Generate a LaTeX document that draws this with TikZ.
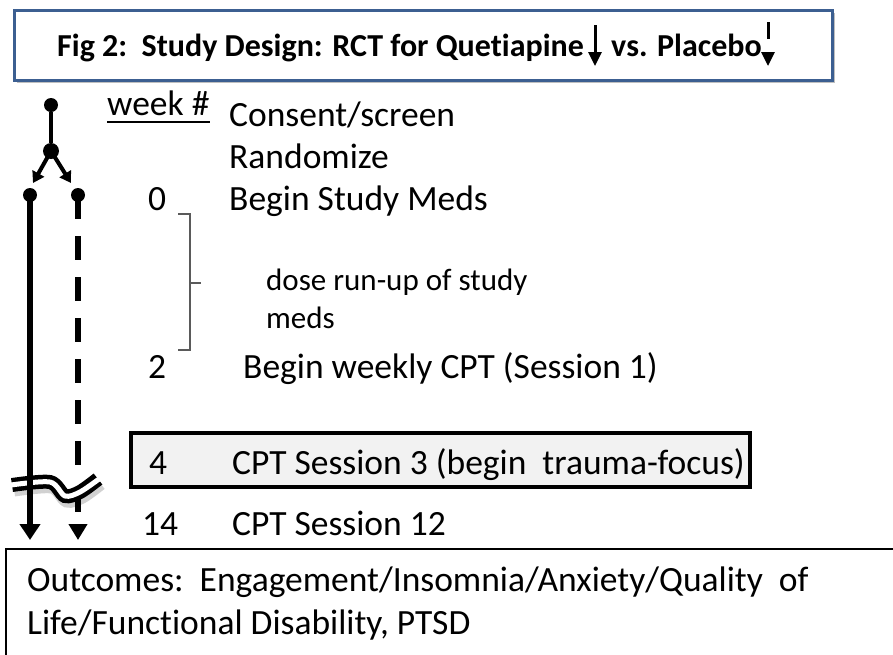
\documentclass[tikz,border=0pt]{standalone}
\usepackage{fontspec}
\setmainfont{Carlito}[Ligatures={NoCommon}]
\usetikzlibrary{arrows.meta,shadows}
\definecolor{titleblue}{RGB}{60,95,145}
\definecolor{bracketgray}{RGB}{90,90,90}
\definecolor{hlfill}{RGB}{242,242,242}
\begin{document}
\begin{tikzpicture}[x=1pt,y=-1pt,
  txt/.style={anchor=base west,inner sep=0pt,font=\fontsize{35.5}{43}\selectfont},
  smalltxt/.style={anchor=base west,inner sep=0pt,font=\fontsize{31}{38}\selectfont},
  num/.style={anchor=base,inner sep=0pt,font=\fontsize{35.5}{43}\selectfont},
  titletxt/.style={anchor=base west,inner sep=0pt,font=\bfseries\fontsize{32}{38}\selectfont},
  dot/.style={circle,fill=black,inner sep=0pt,minimum size=14pt},
  stem/.style={line width=4pt},
  split/.style={line width=4pt,-{Triangle[width=13pt,length=11pt]}},
  flow/.style={line width=5.5pt,-{Triangle[width=20pt,length=16pt]}},
  dashflow/.style={line width=5.5pt,dash pattern=on 24pt off 17pt},
  bracketline/.style={draw=bracketgray,line width=2pt},
]
\useasboundingbox (0,0) rectangle (893,654);

% title box
\node[draw=titleblue,line width=3pt,fill=white,minimum width=818pt,minimum height=70pt,
  drop shadow={shadow xshift=3pt,shadow yshift=-3pt,fill=black,opacity=0.25}] (titlebox) at (423,45) {};
\node[titletxt] (t1) at (57,56) {Fig 2:\ \ Study Design: RCT for Quetiapine};
\node[titletxt] (t2) at (611,56) {vs. Placebo};
\coordinate (qa1) at (595,25);
\coordinate (qa2) at (595,66);
\draw[line width=3pt,-{Triangle[width=13pt,length=14pt]}] (qa1) -- (qa2);
\coordinate (pa1) at (768,22);
\coordinate (pa2) at (768,66);
\draw[line width=3pt,dash pattern=on 17pt off 30pt,-{Triangle[width=13pt,length=14pt]}] (pa1) -- (pa2);

% timeline dots and split
\node[dot] (a) at (51,105) {};
\node[dot,minimum size=16pt] (b) at (51,151) {};
\node[dot] (c) at (30,195) {};
\node[dot] (d) at (78,195) {};
\draw[stem] (a) -- (b);
\coordinate (bl) at (33,183);
\coordinate (br) at (71,183);
\draw[split] (b.center) -- (bl);
\draw[split] (b.center) -- (br);

% dashed (placebo) line
\coordinate (dbreak) at (78,472);
\draw[dashflow] (d.center) -- (dbreak);
\coordinate (d2) at (78,497);
\coordinate (dend) at (78,540);
\draw[line width=5.5pt,dash pattern=on 15pt off 40pt,-{Triangle[width=18pt,length=16pt]}] (d2) -- (dend);

% break symbol
\draw[line width=15pt,black,opacity=0.18] plot[smooth] coordinates {(14,489) (52,486) (67,500) (82,496) (100,483)};
\draw[line width=14pt,black] plot[smooth] coordinates {(12,485) (50,482) (65,496) (80,492) (98,479)};
\draw[line width=5pt,white] plot[smooth] coordinates {(11,485) (50,482) (65,496) (80,492) (99,479)};

% solid (quetiapine) line
\coordinate (cend) at (30,540);
\draw[flow] (c.center) -- (cend);

% week header
\node[txt] (wk) at (107,115) {week \#};
\draw[line width=2pt] ([yshift=-7pt]wk.base west) -- ([yshift=-7pt]wk.base east);

\node[txt] (consent) at (229,126) {Consent/screen};
\node[txt] (rand) at (229,168) {Randomize};
\node[num] (w0) at (157,210) {0};
\node[txt] (meds) at (229,210) {Begin Study Meds};

% bracket
\coordinate (br1) at (178,214);
\coordinate (br2) at (190,214);
\coordinate (br3) at (190,350);
\coordinate (br4) at (178,350);
\coordinate (brm) at (190,283);
\coordinate (brt) at (201,283);
\draw[bracketline] (br1) -- (br2) -- (br3) -- (br4);
\draw[bracketline] (brm) -- (brt);
\node[smalltxt] (dose1) at (266,290) {dose run-up of study};
\node[smalltxt] (dose2) at (266,328) {meds};

\node[num] (w2) at (157,378) {2};
\node[txt] (cpt1) at (243,378) {Begin weekly CPT (Session 1)};

% highlighted week 4
\node[draw=black,line width=4pt,fill=hlfill,minimum width=619pt,minimum height=54pt,
  drop shadow={shadow xshift=2pt,shadow yshift=-2pt,fill=black,opacity=0.2}] (hl) at (440.5,460) {};
\begin{scope}
\clip (133,435) rectangle (748,485);
\node[num] (w4) at (158,474) {4};
\node[txt] (cpt3) at (232,474) {CPT Session 3 (begin\ \ trauma-focus)};
\end{scope}

\node[num] (w14) at (160,535) {14};
\node[txt] (cpt12) at (232,535) {CPT Session 12};

% outcomes box
\begin{scope}
\clip (0,0) rectangle (893,654);
\node[draw=black,line width=1.5pt,minimum width=899pt,minimum height=121pt] (outbox) at (455.5,609.5) {};
\end{scope}
\node[txt] (out1) at (27,591) {Outcomes:\ \ Engagement/Insomnia/Anxiety/Quality\ \ of};
\node[txt] (out2) at (27,634) {Life/Functional Disability, PTSD};
\end{tikzpicture}
\end{document}
